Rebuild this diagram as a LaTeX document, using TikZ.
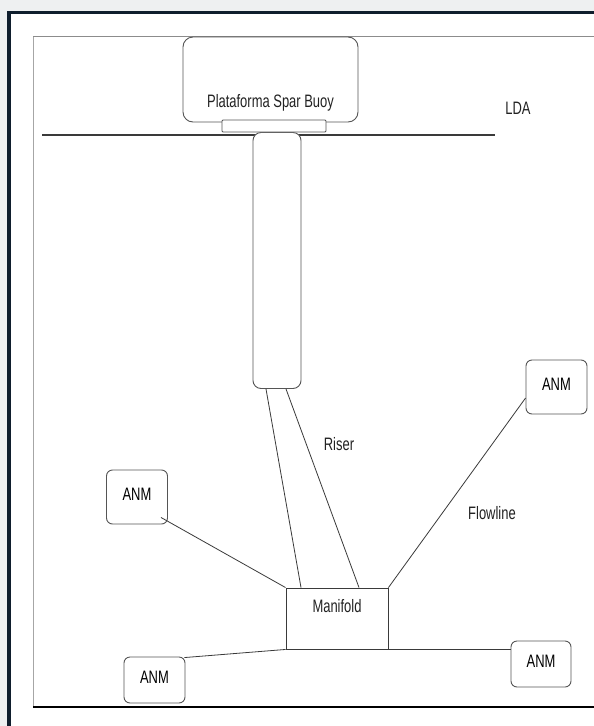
\documentclass[tikz,border=0pt]{standalone}
\usepackage{fontspec}
\setmainfont{Liberation Sans}[FakeStretch=0.72]
\usetikzlibrary{positioning}

\definecolor{bggrey}{HTML}{EEF0F1}
\definecolor{framenavy}{HTML}{0F1E2D}
\definecolor{boxgrey}{HTML}{555555}
\definecolor{linegrey}{HTML}{3A3A3A}
\definecolor{textgrey}{HTML}{222222}

\tikzset{
  box/.style={draw=boxgrey, line width=0.9pt, fill=white, rounded corners=6pt},
  anm/.style={box, minimum width=61pt, text depth=6pt, inner sep=0pt},
  link/.style={draw=linegrey, line width=0.8pt},
  txt/.style={text=textgrey, inner sep=1pt}
}

\begin{document}
\begin{tikzpicture}[x=1pt, y=-1pt, font=\fontsize{18}{21}\selectfont]
    % Page and outer frame
    \useasboundingbox (0,0) rectangle (594,726);
    \fill[bggrey] (0,0) rectangle (594,726);
    \fill[white] (9,12.5) rectangle (594,726);
    \draw[framenavy, line width=3.5pt] (9,726) -- (9,12.5) -- (594,12.5);
    \draw[black!35, line width=0.8pt] (33,707) -- (33,36);
    \draw[black!45, line width=0.8pt] (33,36) -- (594,36);
    \draw[black, line width=2.5pt] (33,707) -- (594,707);

    % Sea level line
    \coordinate (seaW) at (42,135);
    \coordinate (seaE) at (495,135);
    \draw[linegrey, line width=1.3pt] (seaW) -- (seaE);
    \node[txt] (lda) at (518,108) {LDA};

    % Spar buoy platform, plate and column
    \node[box, rounded corners=10pt, minimum width=175pt, minimum height=85pt] (plat) at (270.5,79.5) {};
    \node[txt] at ([yshift=20pt]plat.south) {Plataforma Spar Buoy};
    \node[box, rounded corners=8pt, minimum width=48pt, minimum height=256pt] (spar) at (277,260.5) {};
    \node[box, rounded corners=1pt, minimum width=104pt, minimum height=12pt] (plate) at (274,126) {};

    % Manifold
    \node[draw=linegrey, line width=0.9pt, fill=white, minimum width=102pt, minimum height=61pt] (manifold) at (337,618.5) {};
    \node[txt] at ([yshift=-19pt]manifold.north) {Manifold};

    % ANM units
    \node[anm, minimum height=54pt] (anmA) at (137,497) {ANM};
    \node[anm, minimum height=54pt] (anmB) at (556.5,387) {ANM};
    \node[anm, minimum height=46pt] (anmC) at (154.5,680) {ANM};
    \node[anm, minimum width=60pt, minimum height=46pt] (anmD) at (541,664) {ANM};

    % Riser lines
    \draw[link] ([xshift=-11pt]spar.south) -- ([xshift=-36pt]manifold.north);
    \draw[link] ([xshift=9pt]spar.south) -- ([xshift=22pt]manifold.north);
    \node[txt] (riser) at (339,444) {Riser};

    % Flowlines to the ANM units
    \draw[link] ([shift={(-7pt,7pt)}]anmA.south east) -- (manifold.north west);
    \draw[link] ([yshift=-11pt]anmB.west) -- (manifold.north east);
    \draw[link] ([shift={(-1pt,-1pt)}]anmC.north east) -- (manifold.south west);
    \draw[link] (manifold.south east) -- (anmD.west |- manifold.south);
    \node[txt] (flowline) at (492,513) {Flowline};
\end{tikzpicture}
\end{document}
